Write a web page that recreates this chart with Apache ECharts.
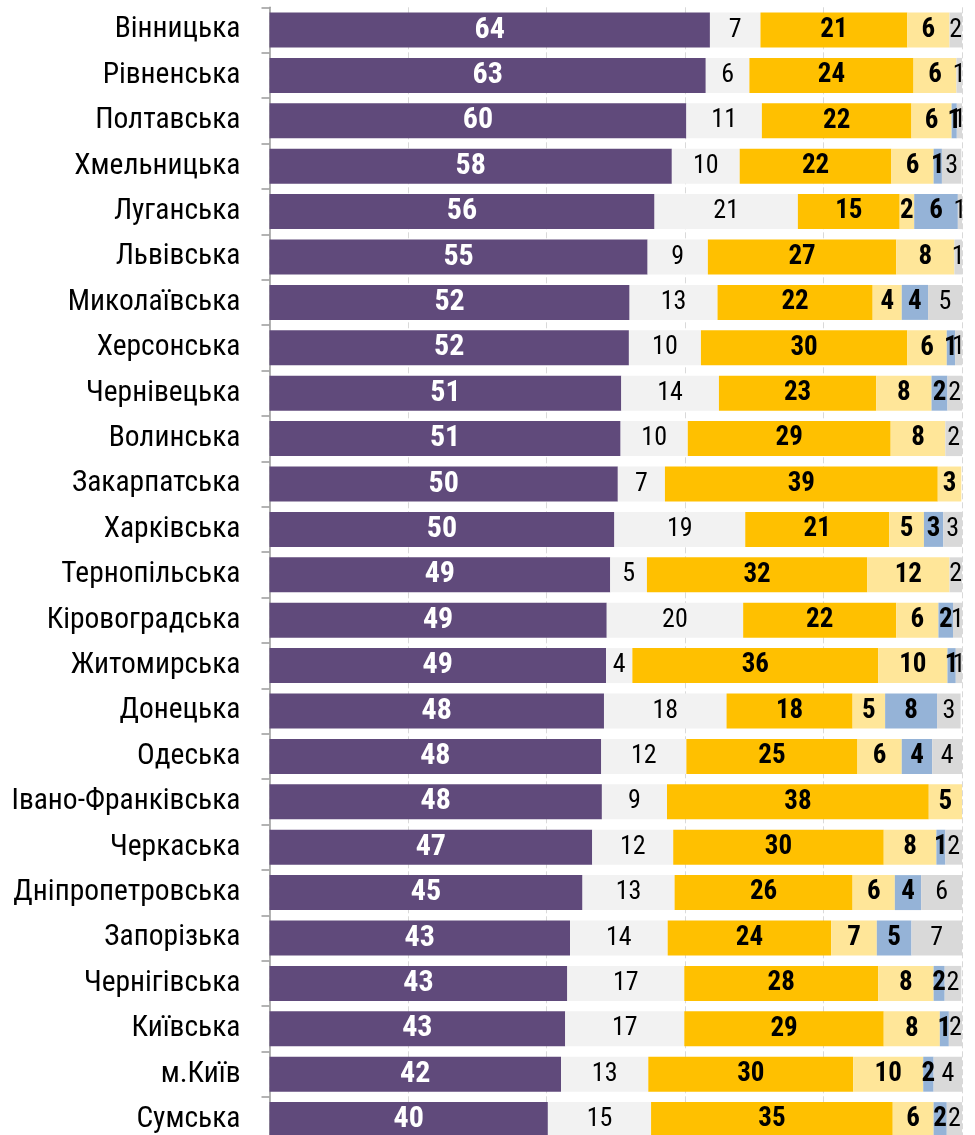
<!DOCTYPE html>
<html>
<head>
<meta charset="utf-8">
<script src="https://cdn.jsdelivr.net/npm/echarts@6/dist/echarts.min.js"></script>
<style>
html,body{margin:0;padding:0;background:#fff;}
#chart{width:975px;height:1135px;}
</style>
</head>
<body>
<div id="chart"></div>
<script>
const categories = ['Вінницька','Рівненська','Полтавська','Хмельницька','Луганська','Львівська','Миколаївська','Херсонська','Чернівецька','Волинська','Закарпатська','Харківська','Тернопільська','Кіровоградська','Житомирська','Донецька','Одеська','Івано-Франківська','Черкаська','Дніпропетровська','Запорізька','Чернігівська','Київська','м.Київ','Сумська'];
const purple = [63.6,63.0,60.2,58.1,55.6,54.6,52.0,51.9,50.8,50.7,50.3,49.8,49.2,48.7,48.6,48.3,47.9,48.0,46.6,45.2,43.4,43.0,42.7,42.1,40.2];
const lightGray = [7.3,6.3,10.9,9.8,20.7,8.7,12.7,10.4,14.1,9.7,6.8,18.9,5.3,19.7,3.8,17.7,12.3,9.4,11.7,13.3,14.1,16.9,17.2,12.6,14.9];
const gold = [21.2,23.7,21.6,21.9,14.7,27.2,22.4,29.8,22.7,29.3,39.4,20.8,31.8,22.1,35.5,18.2,24.7,37.8,30.4,25.7,23.6,28.0,28.8,29.6,34.9];
const lightGold = [6.1,6.2,5.8,6.1,2.1,8.4,4.2,5.7,8.0,7.9,3.4,5.0,11.9,6.1,10.0,4.7,6.4,4.8,7.6,6.1,6.6,8.0,8.1,10.1,5.9];
const blue = [0,0,0.75,1.2,6.3,0,3.8,1.2,2.3,0,0,2.8,0,2.1,1.2,7.5,4.4,0,1.3,3.8,5.0,1.6,1.3,1.5,1.9];
const gray = [1.8,0.8,0.75,2.8,0.7,1.1,4.9,1.0,2.1,2.4,0,2.7,1.8,1.3,0.9,3.4,4.3,0,2.4,5.9,7.3,2.4,1.9,4.1,2.2];
const xTicks = [0,20,40,60,80,100];

const FONT = "Roboto, 'Liberation Sans', sans-serif";
function mk(name, data, color, textColor, bold, size) {
  return {
    name: name, type: 'bar', stack: 'total', data: data,
    barCategoryGap: '23%',
    itemStyle: { color: color },
    label: {
      show: true, position: 'inside',
      color: textColor, fontFamily: FONT,
      fontWeight: bold ? 'condensed bold' : 'condensed normal', fontSize: size,
      formatter: p => (p.value > 0 ? String(Math.round(p.value)) : '')
    },
    emphasis: { disabled: true }
  };
}

const chart = echarts.init(document.getElementById('chart'), null, { renderer: 'canvas' });
chart.setOption({
  animation: false,
  grid: { left: 269.5, right: 13, top: 7.3, height: 1135, containLabel: false, outerBoundsMode: 'none' },
  xAxis: {
    type: 'value', min: xTicks[0], max: xTicks[xTicks.length - 1], interval: 20,
    axisLabel: { show: false }, axisLine: { show: false }, axisTick: { show: false },
    splitLine: { show: true, lineStyle: { color: '#d9d9d9', type: [6, 3], width: 1 } }
  },
  yAxis: {
    type: 'category', data: categories, inverse: true,
    axisLine: { show: true, lineStyle: { color: '#9a9a9a', width: 1.5 } },
    axisTick: { show: true, length: 8, lineStyle: { color: '#9a9a9a', width: 1.5 } },
    axisLabel: { margin: 29, color: '#000', fontFamily: FONT, fontWeight: 'condensed normal', fontSize: 29.5 }
  },
  series: [
    mk('s1', purple, '#604a7b', '#fff', true, 30),
    mk('s2', lightGray, '#f2f2f2', '#000', false, 26),
    mk('s3', gold, '#ffc000', '#000', true, 27),
    mk('s4', lightGold, '#ffe699', '#000', true, 27),
    mk('s5', blue, '#95b3d7', '#000', true, 27),
    mk('s6', gray, '#d9d9d9', '#000', false, 26)
  ]
});
</script>
</body>
</html>
